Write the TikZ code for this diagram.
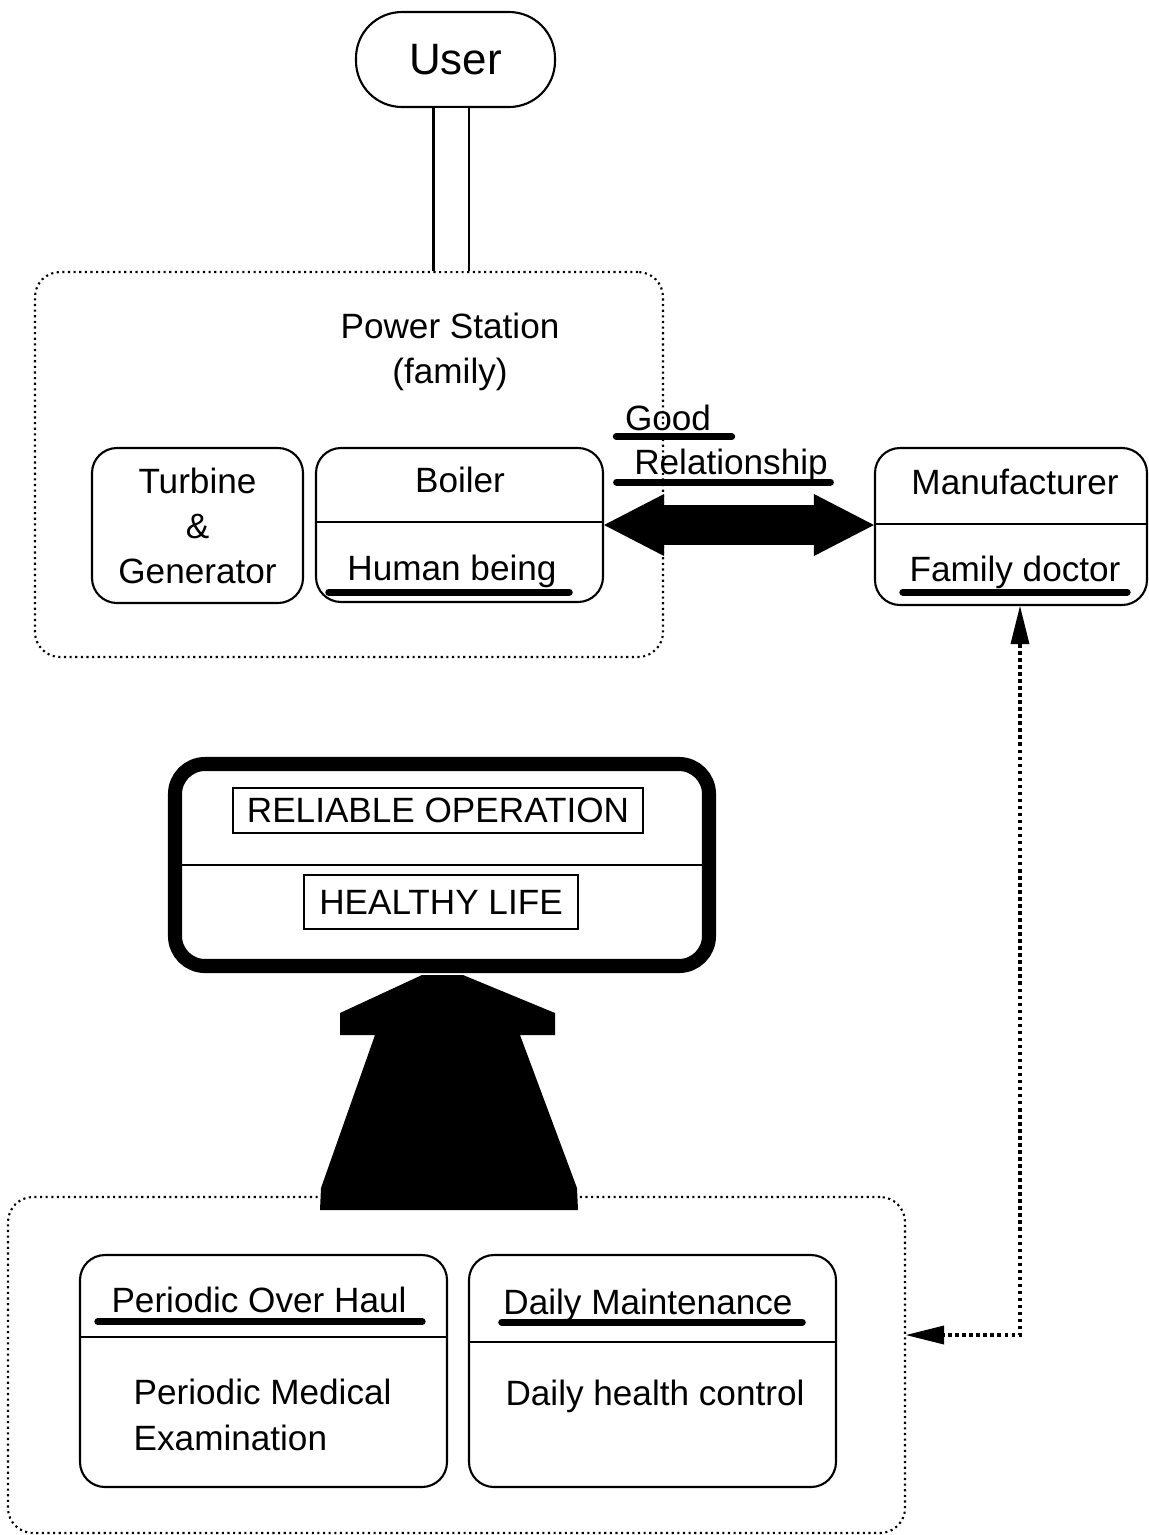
\documentclass[tikz,border=0pt]{standalone}
\usepackage{fontspec}
\setmainfont{Liberation Sans}
\usetikzlibrary{arrows.meta,calc}

\begin{document}
\begin{tikzpicture}[
    roundBox/.style={draw=black, rounded corners=0.25cm, line width=0.6pt, font=\fontsize{10}{12.8}\selectfont, align=center, inner sep=0pt},
    dotFrame/.style={draw=black, densely dotted, rounded corners=0.25cm, line width=0.6pt, inner sep=0pt},
    tagBox/.style={draw=black, line width=0.6pt, font=\fontsize{10}{12}\selectfont, inner sep=0pt},
    labelText/.style={font=\fontsize{10}{13}\selectfont, inner sep=0pt, align=center},
    markStroke/.style={line width=2pt, line cap=round},
    splitLine/.style={line width=0.6pt},
    linkArrow/.style={line width=0.4cm, {Triangle[length=0.6cm, width=0.62cm, line width=0pt]}-{Triangle[length=0.6cm, width=0.62cm, line width=0pt]}},
    dashArrow/.style={densely dotted, line width=1pt, {Triangle[length=0.38cm, width=0.19cm, line width=0pt]}-{Triangle[length=0.38cm, width=0.19cm, line width=0pt]}}
]
    \useasboundingbox (0,0) rectangle (11.49,-15.35);

    \node[roundBox, rounded corners=0.46cm, minimum width=1.99cm, minimum height=0.95cm, font=\fontsize{12.5}{15}\selectfont] (user) at (4.555,-0.595) {User};

    \node[dotFrame, minimum width=6.28cm, minimum height=3.85cm] (station) at (3.49,-4.645) {};
    \node[labelText] (stationText) at (4.50,-3.52) {Power Station\\(family)};

    \node[roundBox, minimum width=2.11cm, minimum height=1.55cm] (turbine) at (1.975,-5.255) {Turbine\\\&\\Generator};
    \node[roundBox, minimum width=2.87cm, minimum height=1.54cm] (boiler) at (4.595,-5.25) {};
    \node[labelText] (boilerText) at (4.60,-4.80) {Boiler};
    \node[labelText] (humanText) at (4.52,-5.71) {Human being};

    \node[roundBox, minimum width=2.72cm, minimum height=1.57cm] (maker) at (10.11,-5.265) {};
    \node[labelText] (makerText) at (10.15,-4.82) {Manufacturer};
    \node[labelText] (doctorText) at (10.15,-5.72) {Family doctor};

    \node[labelText] (goodText) at (6.68,-4.18) {Good};
    \node[labelText] (relationText) at (7.31,-4.65) {Relationship};

    \node[draw=black, line width=4pt, rounded corners=0.3cm, minimum width=5.34cm, minimum height=2.02cm, inner sep=0pt] (goal) at (4.42,-8.65) {};
    \node[tagBox, minimum width=4.10cm, minimum height=0.45cm] (reliable) at (4.38,-8.105) {RELIABLE OPERATION};
    \node[tagBox, minimum width=2.74cm, minimum height=0.54cm] (healthy) at (4.41,-9.02) {HEALTHY LIFE};

    \node[dotFrame, minimum width=8.97cm, minimum height=3.36cm] (care) at (4.565,-13.65) {};
    \node[roundBox, minimum width=3.67cm, minimum height=2.32cm] (periodic) at (2.635,-13.71) {};
    \node[labelText] (overhaulText) at (2.59,-13.00) {Periodic Over Haul};
    \node[labelText, align=left, anchor=west] (medicalText) at (1.33,-14.15) {Periodic Medical\\Examination};
    \node[roundBox, minimum width=3.67cm, minimum height=2.32cm] (daily) at (6.525,-13.71) {};
    \node[labelText] (maintText) at (6.48,-13.05) {Daily Maintenance};
    \node[labelText] (controlText) at (6.55,-13.96) {Daily health control};

    \draw[splitLine] ([yshift=0.03cm]boiler.west) -- ([yshift=0.03cm]boiler.east);
    \draw[splitLine] ([yshift=0.025cm]maker.west) -- ([yshift=0.025cm]maker.east);
    \draw[splitLine] (goal.west) -- (goal.east);
    \draw[splitLine] ([yshift=0.34cm]periodic.west) -- ([yshift=0.34cm]periodic.east);
    \draw[splitLine] ([yshift=0.29cm]daily.west) -- ([yshift=0.29cm]daily.east);

    \draw[line width=0.6pt, double, double distance=0.33cm] ([xshift=-0.045cm]user.south) -- ([xshift=-0.045cm]user.south |- station.north);
    \draw[linkArrow] (boiler.east) -- (boiler.east -| maker.west);
    \draw[dashArrow] ([xshift=0.09cm]maker.south) |- ([yshift=0.30cm]care.east);

    \fill[black] (4.22,-9.75) -- (4.63,-9.75) -- (5.55,-10.13) -- (5.55,-10.35) -- (5.20,-10.35)
        -- (5.77,-11.88) -- (5.78,-12.10) -- (3.20,-12.10) -- (3.21,-11.88) -- (3.75,-10.35)
        -- (3.40,-10.35) -- (3.40,-10.13) -- cycle;

    \draw[markStroke] ([xshift=-0.08cm,yshift=-0.05cm]goodText.south west) -- ([xshift=0.2cm,yshift=-0.05cm]goodText.south east);
    \draw[markStroke] ([xshift=-0.17cm]relationText.south west) -- ([xshift=0.02cm]relationText.south east);
    \draw[markStroke] ([xshift=-0.18cm,yshift=-0.04cm]humanText.south west) -- ([xshift=0.12cm,yshift=-0.04cm]humanText.south east);
    \draw[markStroke] ([xshift=-0.06cm,yshift=-0.03cm]doctorText.south west) -- ([xshift=0.06cm,yshift=-0.03cm]doctorText.south east);
    \draw[markStroke] ([xshift=-0.13cm,yshift=-0.08cm]overhaulText.south west) -- ([xshift=0.15cm,yshift=-0.08cm]overhaulText.south east);
    \draw[markStroke] ([xshift=-0.01cm]maintText.south west) -- ([xshift=0.09cm]maintText.south east);
\end{tikzpicture}
\end{document}
